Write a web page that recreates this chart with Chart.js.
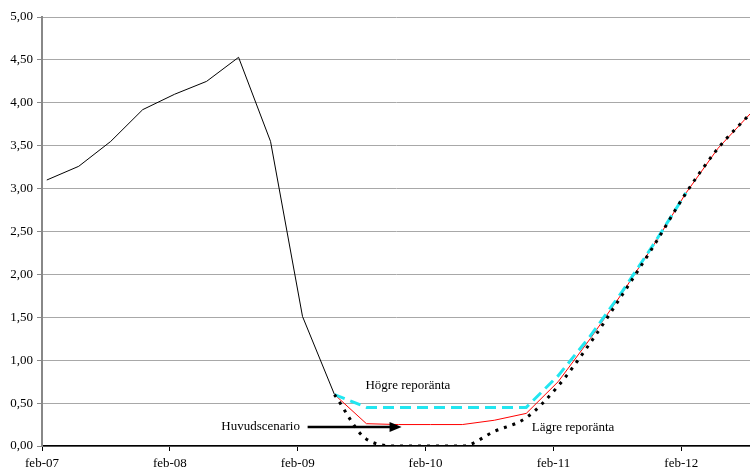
<!DOCTYPE html>
<html>
<head>
<meta charset="utf-8">
<script src="https://cdn.jsdelivr.net/npm/chart.js@4/dist/chart.umd.min.js"></script>
<style>
  html, body { margin: 0; padding: 0; background: #fff; }
  #wrap { width: 750px; height: 472px; }
</style>
</head>
<body>
<div id="wrap"><canvas id="c" width="750" height="472"></canvas></div>
<script>
'use strict';

/* Quarterly points, index 0 = first quarter of 2007 */
const history   = [3.10, 3.26, 3.55, 3.92, 4.10, 4.25, 4.53, 3.55, 1.51, 0.60];
const mainPath  = [null, null, null, null, null, null, null, null, null,
                   0.60, 0.26, 0.25, 0.25, 0.25, 0.30, 0.38, 0.75, 1.25, 1.78, 2.35, 2.95, 3.47, 3.87];
const higher    = [null, null, null, null, null, null, null, null, null,
                   0.60, 0.45, 0.45, 0.45, 0.45, 0.45, 0.45, 0.82, 1.28, 1.80, 2.36, 2.95];
const lower     = [null, null, null, null, null, null, null, null, null,
                   0.60, 0.08, 0.00, 0.00, 0.00, 0.17, 0.33, 0.70, 1.20, 1.76, 2.34, 2.95, 3.47, 3.87];
const xLabels   = ['feb-07', 'feb-08', 'feb-09', 'feb-10', 'feb-11', 'feb-12'];
const FEB_OFFSET = -0.15;   // feb tick sits just before the first quarter point

const pts = arr => arr.map((v, i) => v === null ? null : { x: i, y: v }).filter(Boolean);
const SERIF = '"Liberation Serif", "Times New Roman", serif';

/* ─── Annotations: labels + arrow ─────────────────────────────── */
const notes = {
  id: 'notes',
  afterDatasetsDraw(chart) {
    const { ctx, scales: { x, y } } = chart;
    ctx.save();
    ctx.font = '13px ' + SERIF;
    ctx.fillStyle = '#000';
    ctx.textBaseline = 'middle';
    ctx.textAlign = 'left';
    ctx.fillText('Högre reporänta', x.getPixelForValue(9.97), y.getPixelForValue(0.71));
    ctx.fillText('Lägre reporänta', x.getPixelForValue(15.17), y.getPixelForValue(0.22));
    ctx.textAlign = 'right';
    ctx.fillText('Huvudscenario', x.getPixelForValue(7.92), y.getPixelForValue(0.23));

    const ax0 = x.getPixelForValue(8.16), ax1 = x.getPixelForValue(11.1), ay = y.getPixelForValue(0.22);
    ctx.strokeStyle = '#000';
    ctx.lineWidth = 2.5;
    ctx.beginPath(); ctx.moveTo(ax0, ay); ctx.lineTo(ax1 - 8, ay); ctx.stroke();
    ctx.beginPath();
    ctx.moveTo(ax1, ay); ctx.lineTo(ax1 - 12, ay - 5); ctx.lineTo(ax1 - 12, ay + 5);
    ctx.closePath(); ctx.fill();
    ctx.restore();
  }
};

new Chart(document.getElementById('c'), {
  type: 'line',
  data: {
    datasets: [
      { label: 'Lägre reporänta', data: pts(lower), borderColor: '#000', borderWidth: 3,
        borderDash: [3, 6], borderCapStyle: 'butt', cubicInterpolationMode: 'monotone', order: 0 },
      { label: 'Högre reporänta', data: pts(higher), borderColor: '#22e6f0', borderWidth: 3,
        borderDash: [11, 6], order: 1 },
      { label: 'Huvudscenario', data: pts(mainPath), borderColor: '#ff0000', borderWidth: 1, order: 2 },
      { label: 'Utfall', data: pts(history), borderColor: '#000', borderWidth: 1, order: 3 }
    ]
  },
  options: {
    responsive: false,
    animation: false,
    elements: { point: { radius: 0 }, line: { tension: 0 } },
    layout: { padding: { top: 17, right: 0, left: 0, bottom: 0 } },
    plugins: { legend: { display: false }, tooltip: { enabled: false } },
    scales: {
      x: {
        type: 'linear', min: FEB_OFFSET, max: 22,
        afterBuildTicks: s => { s.ticks = xLabels.map((_, k) => ({ value: FEB_OFFSET + 4 * k })); },
        afterFit: s => { s.height = 26; },
        ticks: { color: '#000', font: { family: SERIF, size: 13 }, padding: 5, maxRotation: 0,
                 callback: (v, i) => xLabels[i] },
        grid: { drawOnChartArea: false, tickLength: 5, tickColor: '#000' },
        border: { color: '#000', width: 1.5 }
      },
      y: {
        min: 0, max: 5,
        afterFit: s => { s.width = 42; },
        ticks: { stepSize: 0.5, color: '#000', font: { family: SERIF, size: 13 }, padding: 4,
                 callback: v => v.toFixed(2).replace('.', ',') },
        grid: { color: '#a8a8a8', borderDash: [1, 1], tickLength: 5, tickColor: '#888', tickBorderDash: [] },
        border: { color: '#888', width: 2 }
      }
    }
  },
  plugins: [notes]
});
</script>
</body>
</html>
